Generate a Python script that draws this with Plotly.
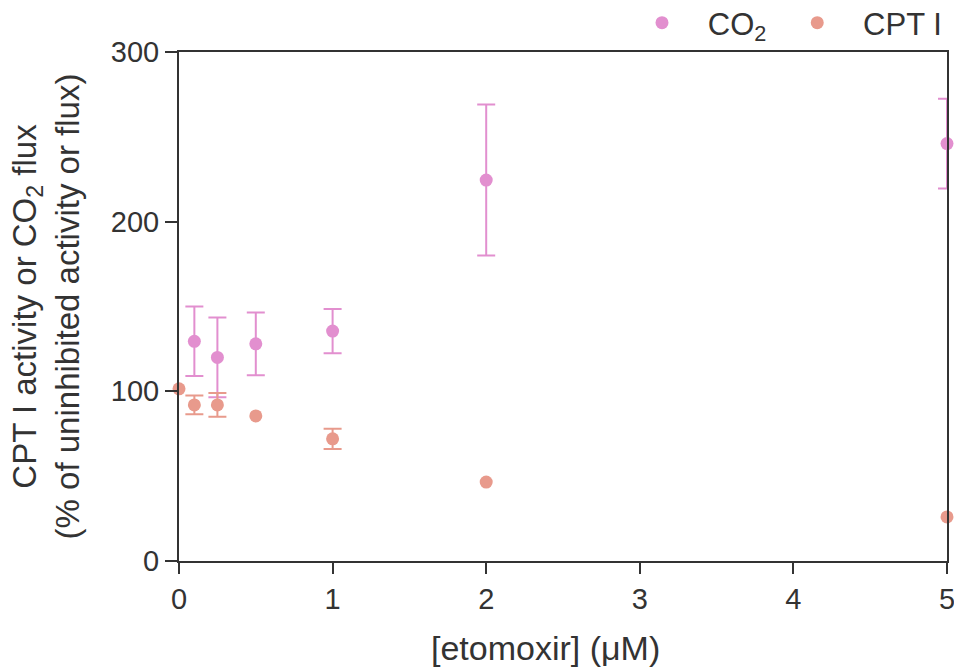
import plotly.graph_objects as go

# Data
etomoxir = [0.1, 0.25, 0.5, 1, 2, 5]
co2_mean = [129.5, 120, 128, 135.5, 224.5, 246]
co2_err = [20.5, 23.5, 18.5, 13, 44.5, 26.5]

cpt_x = [0, 0.1, 0.25, 0.5, 1, 2, 5]
cpt_mean = [101.5, 92, 92, 85.5, 72, 46.5, 26]
cpt_err = [None, 5.5, 7, None, 6, None, None]

x_ticks = [0, 1, 2, 3, 4, 5]
y_ticks = [0, 100, 200, 300]

CO2_COLOR = "#e28fcf"
CPT_COLOR = "#e89a8c"
AX = "#333333"
FONT = "Arial, Liberation Sans, Helvetica, sans-serif"
NB = "\u00a0"

# points of CPT I that carry an error bar
cpt_eb = [i for i, e in enumerate(cpt_err) if e is not None]

fig = go.Figure()
fig.add_trace(go.Scatter(
    x=etomoxir, y=co2_mean, mode="markers", name=NB * 3 + "CO<sub>2</sub>" + NB * 3,
    marker=dict(color=CO2_COLOR, size=13),
    error_y=dict(type="data", array=co2_err, visible=True, color=CO2_COLOR, thickness=2, width=9),
    cliponaxis=False,
))
fig.add_trace(go.Scatter(
    x=[cpt_x[i] for i in cpt_eb], y=[cpt_mean[i] for i in cpt_eb], mode="markers",
    showlegend=False, hoverinfo="skip",
    marker=dict(color="rgba(0,0,0,0)", size=1),
    error_y=dict(type="data", array=[cpt_err[i] for i in cpt_eb], visible=True,
                 color=CPT_COLOR, thickness=2, width=9),
    cliponaxis=False,
))
fig.add_trace(go.Scatter(
    x=cpt_x, y=cpt_mean, mode="markers", name=NB * 3 + "CPT I",
    marker=dict(color=CPT_COLOR, size=13),
    cliponaxis=False,
))

fig.update_layout(
    width=954, height=668,
    margin=dict(l=179, r=7, t=52, b=107, autoexpand=False),
    paper_bgcolor="white", plot_bgcolor="white",
    font=dict(family=FONT, size=29, color=AX),
    showlegend=True,
    legend=dict(orientation="h", x=1.0, xanchor="right", y=1.057, yanchor="middle",
                font=dict(size=31, color=AX), bgcolor="rgba(0,0,0,0)"),
    annotations=[dict(text="[etomoxir] (μM)", xref="paper", yref="paper",
                      x=0.4766, y=-0.171, xanchor="center", yanchor="middle",
                      showarrow=False, font=dict(size=34, color=AX))],
)
fig.update_xaxes(
    range=[0, 5], tickvals=x_ticks, ticks="outside", ticklen=11, tickwidth=2,
    tickcolor=AX, showline=True, linecolor=AX, linewidth=2, mirror=True,
    showgrid=False, zeroline=False, tickfont=dict(size=29), automargin=False,
    ticklabeloverflow="allow",
)
fig.update_yaxes(
    range=[0, 300], tickvals=y_ticks, ticks="outside", ticklen=12, tickwidth=2,
    tickcolor=AX, showline=True, linecolor=AX, linewidth=2, mirror=True,
    showgrid=False, zeroline=False, tickfont=dict(size=29), automargin=False,
    ticklabeloverflow="allow",
    title=dict(text="CPT I activity or CO<sub>2</sub> flux<br>(% of uninhibited activity or flux)",
               font=dict(size=33), standoff=21),
)

fig.write_html("out.html", config={"displayModeBar": False},
               post_script="document.body.style.margin='0';")
